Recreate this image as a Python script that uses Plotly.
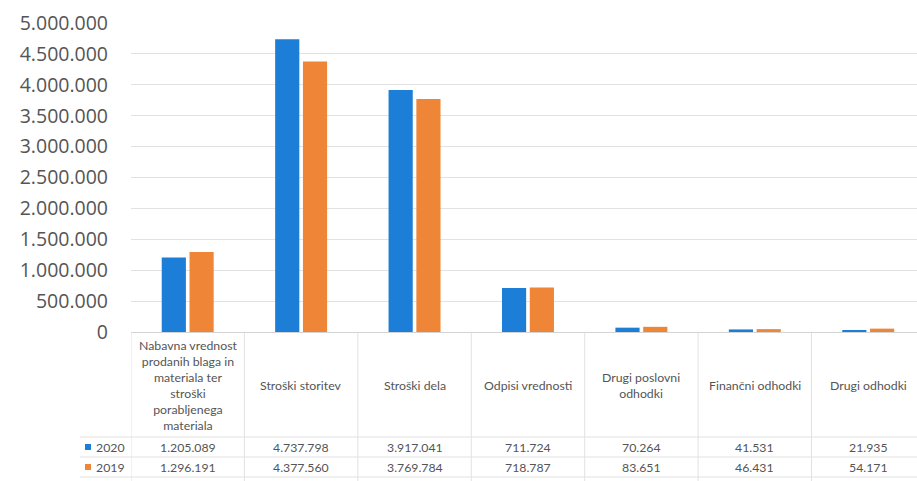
import plotly.graph_objects as go

# Expense categories (Slovenian labels, with the line breaks used in the table header)
categories = [
    "Nabavna vrednost prodanih blaga in materiala ter stroški porabljenega materiala",
    "Stroški storitev",
    "Stroški dela",
    "Odpisi vrednosti",
    "Drugi poslovni odhodki",
    "Finančni odhodki",
    "Drugi odhodki",
]
header_labels = [
    "Nabavna vrednost<br>prodanih blaga in<br>materiala ter<br>stroški<br>porabljenega<br>materiala",
    "Stroški storitev",
    "Stroški dela",
    "Odpisi vrednosti",
    "Drugi poslovni<br>odhodki",
    "Finančni odhodki",
    "Drugi odhodki",
]
values_2020 = [1205089, 4737798, 3917041, 711724, 70264, 41531, 21935]
values_2019 = [1296191, 4377560, 3769784, 718787, 83651, 46431, 54171]
series_names = ["2020", "2019"]
series_colors = ["#1c7ed6", "#ef8536"]

W, H = 917, 481
ML, MT, MB = 131, 23, 149
PW, PH = W - ML, H - MT - MB


def px_x(px):
    return (px - ML) / PW


def px_y(py):
    return (H - MB - py) / PH


def fmt(v):
    return f"{v:,}".replace(",", ".")


fig = go.Figure()
for name, vals, col in zip(series_names, [values_2020, values_2019], series_colors):
    fig.add_trace(go.Bar(x=categories, y=vals, name=name, marker_color=col,
                         marker_line_width=0))

font_txt = dict(family="Lato, Open Sans, sans-serif", size=12.3, color="#555555")
grid_col = "#e2e2e2"

shapes = []
annotations = []

# table grid: horizontal rules
for py in [437, 457, 477]:
    shapes.append(dict(type="line", xref="paper", yref="paper",
                       x0=px_x(80), x1=1.0, y0=px_y(py), y1=px_y(py),
                       line=dict(color=grid_col, width=1)))
# vertical rules at category boundaries
for i in range(len(categories) + 1):
    shapes.append(dict(type="line", xref="x", yref="paper",
                       x0=i - 0.5, x1=i - 0.5, y0=px_y(333), y1=px_y(481),
                       line=dict(color=grid_col, width=1)))

# header cells and value rows
for cat, lab, v20, v19 in zip(categories, header_labels, values_2020, values_2019):
    annotations.append(dict(x=cat, xref="x", y=px_y(385), yref="paper",
                            text=lab, showarrow=False, font=font_txt,
                            align="center", yanchor="middle"))
    annotations.append(dict(x=cat, xref="x", y=px_y(447), yref="paper",
                            text=fmt(v20), showarrow=False, font=font_txt,
                            yanchor="middle"))
    annotations.append(dict(x=cat, xref="x", y=px_y(467), yref="paper",
                            text=fmt(v19), showarrow=False, font=font_txt,
                            yanchor="middle"))

# legend keys in the table's first column
for name, col, py in zip(series_names, series_colors, [447, 467]):
    shapes.append(dict(type="rect", xref="paper", yref="paper",
                       x0=px_x(85), x1=px_x(91), y0=px_y(py + 3), y1=px_y(py - 3),
                       fillcolor=col, line=dict(width=0)))
    annotations.append(dict(x=px_x(94), xref="paper", y=px_y(py), yref="paper",
                            text=name, showarrow=False, font=font_txt,
                            xanchor="left", yanchor="middle"))

fig.update_layout(
    width=W, height=H,
    margin=dict(l=ML, r=0, t=MT, b=MB),
    paper_bgcolor="white", plot_bgcolor="white",
    separators=",.",
    barmode="group", bargap=0.51, bargroupgap=0.13,
    showlegend=False,
    shapes=shapes, annotations=annotations,
    xaxis=dict(range=[-0.5, 6.43], showticklabels=False, showgrid=False,
               showline=False, zeroline=False, fixedrange=True),
    yaxis=dict(range=[0, 5000000], dtick=500000, tickformat=",d",
               showgrid=True, gridcolor=grid_col, gridwidth=1,
               zeroline=True, zerolinecolor="#d4d4d4", zerolinewidth=1,
               showline=False, ticks="", ticklabelstandoff=22,
               tickfont=dict(family="Open Sans, Lato, sans-serif", size=19.5,
                             color="#555555")),
)

fig.write_html("out.html")
